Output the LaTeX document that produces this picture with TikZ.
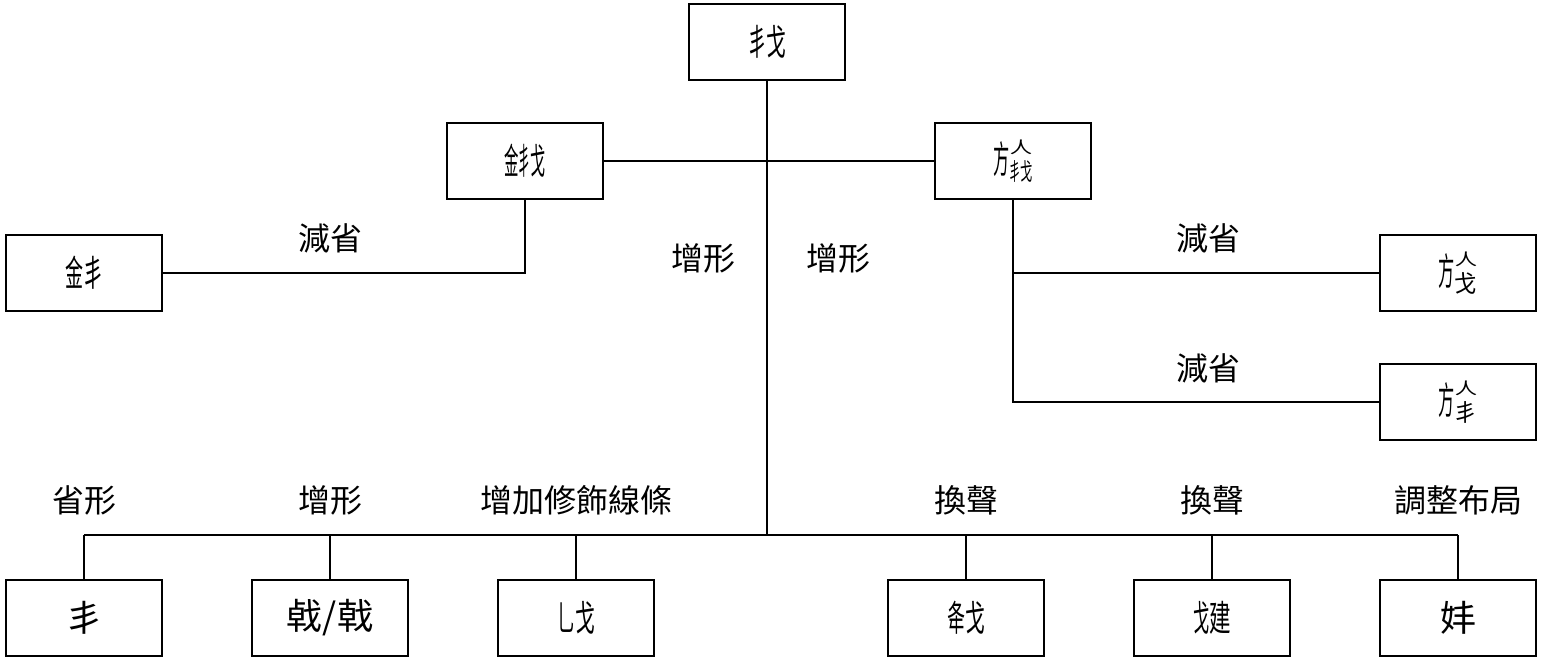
\documentclass[tikz,border=0pt]{standalone}
\usepackage{fontspec}
\usepackage{graphicx}
\setmainfont{Noto Sans CJK TC}
\usetikzlibrary{calc}
% pieced-together glyphs for forms that have no code point
\newcommand{\duo}[2]{\scalebox{0.5}[1]{#1}\scalebox{0.55}[1]{#2}}
\newcommand{\trio}[3]{\scalebox{0.4}[1]{#1}\scalebox{0.32}[1]{#2}\scalebox{0.42}[1]{#3}}
\newcommand{\flag}[1]{\scalebox{0.45}[1.05]{方}\raisebox{-0.2em}{\shortstack{\scalebox{0.62}[0.45]{人}\\\scalebox{0.62}[0.66]{#1}}}}
\tikzset{
form/.style={draw=black, line width=1.2pt, minimum width=78pt, minimum height=38pt,
  inner sep=0pt, font=\fontsize{18}{20}\selectfont},
note/.style={inner sep=0pt, font=\fontsize{16}{18}\selectfont},
link/.style={line width=1pt, draw=black},
}

\begin{document}
\begin{tikzpicture}[x=0.5pt, y=-0.5pt]
\useasboundingbox (0,0) rectangle (1541,664);
% upper part
\node[form] (ji) at (767,42) {\duo{丯}{戈}};
\node[form] (jin) at (525,161) {\trio{金}{丯}{戈}};
\node[form] (yan) at (1013,161) {\flag{\duo{丯}{戈}}};
\node[form] (jinb) at (84,273) {\duo{金}{丯}};
\node[form] (yana) at (1458,273) {\flag{戈}};
\node[form] (yanb) at (1458,402) {\flag{丯}};
% lower row
\node[form] (b1) at (84,618) {丯};
\node[form] (b2) at (330,618) {㦸/戟};
\node[form] (b3) at (576,618) {\duo{乚}{戈}};
\node[form] (b4) at (966,618) {\duo{夅}{戈}};
\node[form] (b5) at (1212,618) {\scalebox{0.45}[1]{戈}\scalebox{0.6}[1]{建}};
\node[form] (b6) at (1458,618) {妦};
\coordinate (bus) at (767,535);

\draw[link] (ji.south) -- (ji.south |- bus);
\draw[link] (jin.east) -- (yan.west);
\draw[link] (jin.south) |- (jinb.east);
\draw[link] (yan.south) |- (yanb.west);
\draw[link] (yan.south |- yana.west) -- (yana.west);
\draw[link] (b1.north |- bus) -- (b6.north |- bus);
\foreach \b in {b1,b2,b3,b4,b5,b6}
  \draw[link] (\b.north) -- (\b.north |- bus);

% labels
\node[note] (n1) at (330,238) {減省};
\node[note] (n2) at (703,258) {增形};
\node[note] (n3) at (838,258) {增形};
\node[note] (n4) at (1208,238) {減省};
\node[note] (n5) at (1208,368) {減省};
\node[note] (m1) at (84,500) {省形};
\node[note] (m2) at (330,500) {增形};
\node[note] (m3) at (576,500) {增加修飾線條};
\node[note] (m4) at (966,500) {換聲};
\node[note] (m5) at (1212,500) {換聲};
\node[note] (m6) at (1458,500) {調整布局};
\end{tikzpicture}
\end{document}
